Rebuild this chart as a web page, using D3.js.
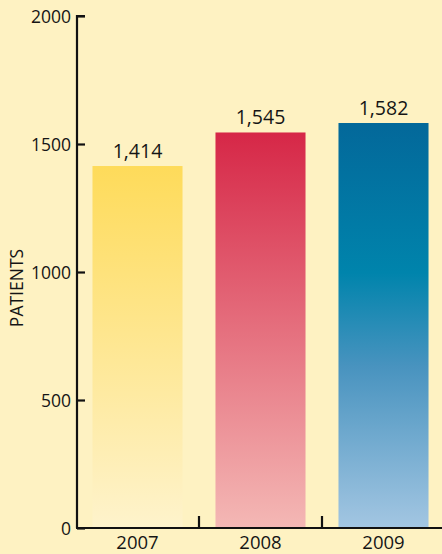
<!DOCTYPE html>
<html><head><meta charset="utf-8">
<script src="https://cdn.jsdelivr.net/npm/d3@7"></script>
<style>
html,body{margin:0;padding:0;background:#fef2c2;}
svg{display:block;}
text{font-family:"Open Sans",sans-serif;fill:#151515;}
</style></head><body>
<svg id="c" width="442" height="554"></svg>
<script>
const years = ["2007", "2008", "2009"];
const patients = [1414, 1545, 1582];
const valueLabels = ["1,414", "1,545", "1,582"];
const yTicks = [0, 500, 1000, 1500, 2000];
const gradients = [
  [["0%", "#fedb5a"], ["100%", "#fef3cc"]],
  [["0%", "#d62747"], ["100%", "#f4b8b5"]],
  [["0%", "#03689a"], ["37%", "#0084ac"], ["60%", "#4893bf"], ["100%", "#a3c6e2"]]
];

const svg = d3.select("#c");
const y = d3.scaleLinear().domain([0, 2000]).range([528, 16]);
const x = d3.scaleBand().domain(years).range([76, 445]).paddingInner(0.268).paddingOuter(0.134);

const defs = svg.append("defs");
gradients.forEach((g, i) => {
  const lg = defs.append("linearGradient").attr("id", "g" + i)
    .attr("x1", 0).attr("y1", 0).attr("x2", 0).attr("y2", 1);
  g.forEach(s => lg.append("stop").attr("offset", s[0]).attr("stop-color", s[1]));
});

svg.selectAll("rect.bar").data(patients).join("rect").attr("class", "bar")
  .attr("x", (d, i) => x(years[i]))
  .attr("width", x.bandwidth())
  .attr("y", d => y(d))
  .attr("height", d => y(0) - y(d))
  .attr("fill", (d, i) => `url(#g${i})`);

svg.selectAll("text.val").data(patients).join("text").attr("class", "val")
  .attr("x", (d, i) => x(years[i]) + x.bandwidth() / 2)
  .attr("y", d => y(d) - 8)
  .attr("text-anchor", "middle")
  .style("font-size", "19.5px")
  .text((d, i) => valueLabels[i]);

// y axis
const yAxis = d3.axisRight(y).tickValues(yTicks).tickSize(8).tickFormat(d3.format("d"));
const ga = svg.append("g").attr("transform", "translate(77,0)").call(yAxis);
ga.select(".domain").attr("stroke", "#111").attr("stroke-width", 2.2).attr("d", `M8,${y(2000)}H0V${y(0)}`);
ga.selectAll(".tick line").attr("stroke", "#111").attr("stroke-width", 2.2);
ga.selectAll(".tick text").attr("x", -6).attr("text-anchor", "end").attr("dy", "0.35em")
  .style("font-size", "17.5px").attr("fill", "#151515");

// x axis
const xAxis = d3.axisBottom(x).tickSize(0).tickPadding(8);
const gx = svg.append("g").attr("transform", "translate(0,528)").call(xAxis);
gx.select(".domain").attr("stroke", "#111").attr("stroke-width", 2.2).attr("d", "M76,0H442");
gx.selectAll(".tick text").style("font-size", "18.5px").attr("fill", "#151515").attr("dy", "0.68em");
// separators between categories
svg.selectAll("line.sep").data(years.slice(1)).join("line").attr("class", "sep")
  .attr("x1", d => x(d) - x.step() * x.paddingInner() / 2)
  .attr("x2", d => x(d) - x.step() * x.paddingInner() / 2)
  .attr("y1", 528).attr("y2", 516)
  .attr("stroke", "#111").attr("stroke-width", 2.2);

svg.append("text").attr("transform", "translate(23,288) rotate(-90)")
  .attr("text-anchor", "middle").style("font-size", "17.5px").text("PATIENTS");
</script></body></html>
